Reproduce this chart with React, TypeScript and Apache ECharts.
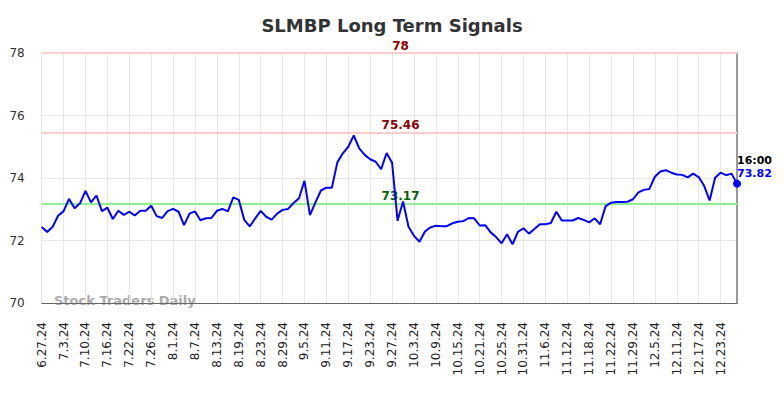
import React, { useEffect, useRef } from 'react';
import * as echarts from 'echarts';

const dates = [
  '6.27.24','6.28.24','7.1.24','7.2.24','7.3.24','7.5.24','7.8.24','7.9.24','7.10.24','7.11.24',
  '7.12.24','7.15.24','7.16.24','7.17.24','7.18.24','7.19.24','7.22.24','7.23.24','7.24.24','7.25.24',
  '7.26.24','7.29.24','7.30.24','7.31.24','8.1.24','8.2.24','8.5.24','8.6.24','8.7.24','8.8.24',
  '8.9.24','8.12.24','8.13.24','8.14.24','8.15.24','8.16.24','8.19.24','8.20.24','8.21.24','8.22.24',
  '8.23.24','8.26.24','8.27.24','8.28.24','8.29.24','8.30.24','9.3.24','9.4.24','9.5.24','9.6.24',
  '9.9.24','9.10.24','9.11.24','9.12.24','9.13.24','9.16.24','9.17.24','9.18.24','9.19.24','9.20.24',
  '9.23.24','9.24.24','9.25.24','9.26.24','9.27.24','9.30.24','10.1.24','10.2.24','10.3.24','10.4.24',
  '10.7.24','10.8.24','10.9.24','10.10.24','10.11.24','10.14.24','10.15.24','10.16.24','10.17.24','10.18.24',
  '10.21.24','10.22.24','10.23.24','10.24.24','10.25.24','10.28.24','10.29.24','10.30.24','10.31.24','11.1.24',
  '11.4.24','11.5.24','11.6.24','11.7.24','11.8.24','11.11.24','11.12.24','11.13.24','11.14.24','11.15.24',
  '11.18.24','11.19.24','11.20.24','11.21.24','11.22.24','11.25.24','11.26.24','11.27.24','11.29.24','12.2.24',
  '12.3.24','12.4.24','12.5.24','12.6.24','12.9.24','12.10.24','12.11.24','12.12.24','12.13.24','12.16.24',
  '12.17.24','12.18.24','12.19.24','12.20.24','12.23.24','12.24.24','12.26.24','12.27.24'
];

const prices = [
  72.43, 72.27, 72.44, 72.79, 72.94, 73.33, 73.03, 73.19, 73.59, 73.22,
  73.44, 72.94, 73.05, 72.69, 72.95, 72.82, 72.92, 72.80, 72.95, 72.95,
  73.11, 72.78, 72.72, 72.94, 73.01, 72.92, 72.49, 72.86, 72.93, 72.65,
  72.71, 72.72, 72.95, 73.01, 72.93, 73.38, 73.30, 72.66, 72.45, 72.71,
  72.95, 72.76, 72.67, 72.86, 72.98, 73.01, 73.20, 73.35, 73.91, 72.81,
  73.22, 73.60, 73.69, 73.69, 74.50, 74.79, 75.00, 75.36, 74.95, 74.74,
  74.60, 74.52, 74.28, 74.80, 74.49, 72.63, 73.25, 72.44, 72.15, 71.96,
  72.29, 72.42, 72.47, 72.46, 72.46, 72.55, 72.60, 72.62, 72.72, 72.71,
  72.48, 72.49, 72.26, 72.11, 71.91, 72.20, 71.88, 72.28, 72.39, 72.22,
  72.37, 72.52, 72.52, 72.56, 72.92, 72.64, 72.64, 72.64, 72.72, 72.66,
  72.58, 72.71, 72.52, 73.10, 73.21, 73.23, 73.23, 73.24, 73.32, 73.54,
  73.62, 73.65, 74.04, 74.21, 74.25, 74.17, 74.11, 74.10, 74.02, 74.14,
  74.03, 73.75, 73.28, 74.01, 74.17, 74.09, 74.14, 73.82
];

const upperLevel = 78;
const midLevel = 75.46;
const lowerLevel = 73.17;
const levelLabelIndex = 65;
const lastTime = '16:00';
const yMin = 70;
const yMax = 78;
const yStep = 2;

const FONT = 'DejaVu Sans';

export default function App() {
  const ref = useRef<HTMLDivElement>(null);
  useEffect(() => {
    if (!ref.current) return;
    const chart = echarts.init(ref.current, null, { renderer: 'svg' });
    const lastIdx = prices.length - 1;
    const levelLabel = (v: number, color: string) => ({
      coord: [dates[levelLabelIndex], v],
      value: v,
      symbol: 'circle',
      symbolSize: 0,
      label: {
        show: true,
        position: 'inside',
        offset: [3, -7.5],
        formatter: String(v),
        color,
        fontSize: 12,
        fontWeight: 'bold',
        fontFamily: FONT,
      },
    });
    chart.setOption({
      animation: false,
      backgroundColor: '#ffffff',
      title: {
        text: 'SLMBP Long Term Signals',
        left: 'center',
        top: 11,
        textStyle: { fontSize: 18, fontWeight: 'bold', color: '#333', fontFamily: FONT },
      },
      grid: { left: 41.7, right: 47, top: 53, bottom: 95 },
      xAxis: {
        type: 'category',
        data: dates,
        boundaryGap: false,
        axisLine: { show: true, lineStyle: { color: '#666', width: 1 } },
        axisTick: { show: false },
        axisLabel: {
          interval: 3,
          rotate: 90,
          margin: 19,
          fontSize: 12,
          color: '#222',
          fontFamily: FONT,
        },
        splitLine: { show: true, interval: 3, lineStyle: { color: '#e6e6e6', width: 1 } },
      },
      yAxis: [
        {
          type: 'value',
          min: yMin,
          max: yMax,
          interval: yStep,
          axisLine: { show: false },
          axisTick: { show: false },
          axisLabel: { fontSize: 12, color: '#333', margin: 17, fontFamily: FONT },
          splitLine: { show: true, lineStyle: { color: '#e6e6e6', width: 1 } },
        },
        {
          type: 'value',
          position: 'right',
          min: yMin,
          max: yMax,
          interval: yStep,
          axisLine: { show: true, lineStyle: { color: '#777', width: 1.5 } },
          axisTick: { show: false },
          axisLabel: { show: false },
          splitLine: { show: false },
        },
      ],
      graphic: [
        {
          type: 'text',
          left: 54,
          top: 293.5,
          z: 0,
          style: {
            text: 'Stock Traders Daily',
            fill: '#aaaaaa',
            font: `bold 13px "${FONT}"`,
          },
        },
      ],
      series: [
        {
          type: 'line',
          data: prices,
          symbol: 'none',
          lineStyle: { color: '#0000ff', width: 2 },
          z: 5,
          markLine: {
            silent: true,
            symbol: 'none',
            label: { show: false },
            data: [
              { yAxis: upperLevel, lineStyle: { color: '#ffcccc', width: 2, type: 'solid' } },
              { yAxis: midLevel, lineStyle: { color: '#ffcccc', width: 2, type: 'solid' } },
              { yAxis: lowerLevel, lineStyle: { color: '#90ee90', width: 2, type: 'solid' } },
            ],
          },
          markPoint: {
            silent: true,
            data: [
              levelLabel(upperLevel, '#8b0000'),
              levelLabel(midLevel, '#8b0000'),
              levelLabel(lowerLevel, '#006400'),
              {
                coord: [dates[lastIdx], prices[lastIdx]],
                value: prices[lastIdx],
                symbol: 'circle',
                symbolSize: 8,
                itemStyle: { color: '#0000ff' },
                label: {
                  show: true,
                  position: [4, -26],
                  align: 'left',
                  verticalAlign: 'top',
                  formatter: `{t|${lastTime}}\n{v|${prices[lastIdx].toFixed(2)}}`,
                  rich: {
                    t: { color: '#000', fontWeight: 'bold', fontSize: 11, lineHeight: 13, fontFamily: FONT },
                    v: { color: '#0000ff', fontWeight: 'bold', fontSize: 11, lineHeight: 13, fontFamily: FONT },
                  },
                },
              },
            ],
          },
        },
      ],
    });
    return () => chart.dispose();
  }, []);
  return (
    <div
      ref={ref}
      style={{ position: 'fixed', left: 0, top: 0, width: 784, height: 398 }}
    />
  );
}
